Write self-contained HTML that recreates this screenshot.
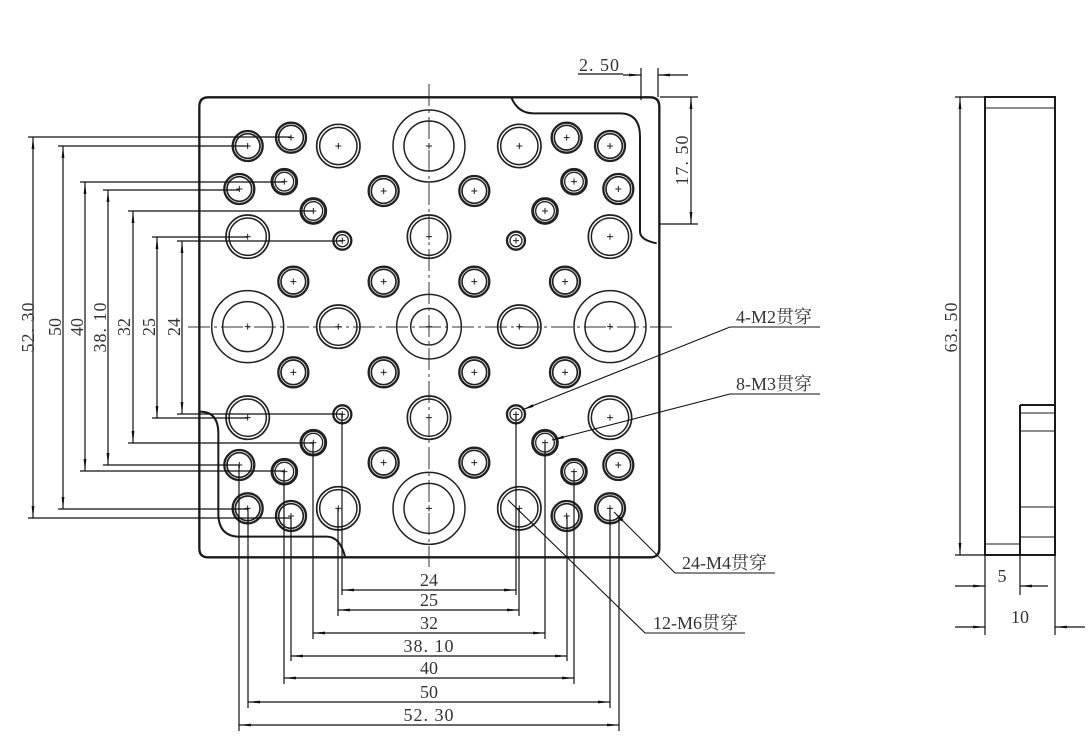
<!DOCTYPE html>
<html><head><meta charset="utf-8"><style>
html,body{margin:0;padding:0;background:#fff;}
svg{display:block}
text{font-family:"Liberation Serif","Noto Serif CJK SC",serif;font-size:18px;fill:#333}
.w{letter-spacing:1px}
</style></head><body>
<svg width="1092" height="752" viewBox="0 0 1092 752" xmlns="http://www.w3.org/2000/svg">
<defs>
<marker id="ar" viewBox="0 0 12 4" refX="12" refY="2" markerWidth="12" markerHeight="4" markerUnits="userSpaceOnUse" orient="auto-start-reverse"><path d="M0,0.6 L12,2 L0,3.4 Z" fill="#111"/></marker>
<g id="cr"><path d="M-9,0H9M0,-9V9" stroke="#222" stroke-width="3"/></g>
<g id="A" fill="none" stroke="#222"><circle r="45" stroke-width="7"/><circle r="37" stroke-width="5"/><use href="#cr"/></g>
<g id="B" fill="none" stroke="#222"><circle r="37" stroke-width="9"/><circle r="28" stroke-width="4"/><use href="#cr"/></g>
<g id="C" fill="none" stroke="#222"><circle r="65" stroke-width="5"/><circle r="56" stroke-width="4.5"/><use href="#cr"/></g>
<g id="D" fill="none" stroke="#222"><circle r="27" stroke-width="7"/><circle r="18" stroke-width="4"/><use href="#cr"/></g>
<g id="E" fill="none" stroke="#222"><circle r="108" stroke-width="4.5"/><circle r="75" stroke-width="4.5"/><use href="#cr"/></g>
<g id="F" fill="none" stroke="#222"><circle r="97" stroke-width="4.5"/><circle r="55" stroke-width="4.5"/><use href="#cr"/></g>
</defs>

<g stroke="#333" stroke-width="1" stroke-dasharray="22,4,3,4" fill="none">
<line x1="429" y1="84" x2="429" y2="567"/>
<line x1="188" y1="327" x2="672" y2="327"/>
</g>

<g transform="translate(190 80) scale(0.33333)" fill="none" stroke="#1a1a1a">
<path d="M55,52 H1380 Q1408,52 1408,80 V1405 Q1408,1432 1380,1432 H55 Q28,1432 28,1405 V80 Q28,52 55,52 Z" stroke-width="7"/>
<path d="M965,55 Q985,100 1030,100 H1290 Q1350,100 1350,170 V455 Q1350,480 1400,490" stroke-width="6"/>
<path d="M30,995 Q85,995 85,1060 V1300 Q85,1370 150,1370 H410 Q450,1370 465,1430" stroke-width="6"/>
<use href="#A" x="173" y="198"/><use href="#A" x="303" y="173"/><use href="#A" x="1130" y="173"/><use href="#A" x="1260" y="198"/>
<use href="#A" x="148" y="327"/><use href="#A" x="1285" y="327"/>
<use href="#A" x="581" y="333"/><use href="#A" x="853" y="333"/>
<use href="#A" x="310" y="605"/><use href="#A" x="581" y="605"/><use href="#A" x="853" y="605"/><use href="#A" x="1125" y="605"/>
<use href="#A" x="310" y="877"/><use href="#A" x="581" y="877"/><use href="#A" x="853" y="877"/><use href="#A" x="1125" y="877"/>
<use href="#A" x="148" y="1155"/><use href="#A" x="1285" y="1155"/>
<use href="#A" x="581" y="1148"/><use href="#A" x="853" y="1148"/>
<use href="#A" x="173" y="1285"/><use href="#A" x="303" y="1308"/><use href="#A" x="1130" y="1308"/><use href="#A" x="1260" y="1285"/>
<use href="#B" x="283" y="305"/><use href="#B" x="1152" y="305"/><use href="#B" x="370" y="393"/><use href="#B" x="1065" y="393"/>
<use href="#B" x="370" y="1088"/><use href="#B" x="1065" y="1088"/><use href="#B" x="283" y="1175"/><use href="#B" x="1152" y="1175"/>
<use href="#D" x="457" y="482"/><use href="#D" x="978" y="482"/><use href="#D" x="457" y="1003"/><use href="#D" x="978" y="1003"/>
<use href="#C" x="445" y="198"/><use href="#C" x="988" y="198"/><use href="#C" x="173" y="470"/><use href="#C" x="717" y="470"/><use href="#C" x="1260" y="470"/>
<use href="#C" x="445" y="740"/><use href="#C" x="988" y="740"/>
<use href="#C" x="173" y="1013"/><use href="#C" x="717" y="1013"/><use href="#C" x="1260" y="1013"/>
<use href="#C" x="445" y="1285"/><use href="#C" x="988" y="1285"/>
<use href="#E" x="717" y="198"/><use href="#E" x="173" y="740"/><use href="#E" x="1260" y="740"/><use href="#E" x="717" y="1285"/>
<use href="#F" x="717" y="740"/>
</g>

<g stroke="#111" stroke-width="1.2" fill="none">
<path d="M28,137H291 M28,518H291"/>
<path d="M58,146H248 M58,509H248"/>
<path d="M80,182H284 M80,471H284"/>
<path d="M103,190H239 M103,465H239"/>
<path d="M128,211H313 M128,443H313"/>
<path d="M152,237H248 M152,418H248"/>
<path d="M177,241H342 M177,414H342"/>
<line x1="33" y1="137" x2="33" y2="518" marker-start="url(#ar)" marker-end="url(#ar)"/>
<line x1="63" y1="146" x2="63" y2="509" marker-start="url(#ar)" marker-end="url(#ar)"/>
<line x1="85" y1="182" x2="85" y2="471" marker-start="url(#ar)" marker-end="url(#ar)"/>
<line x1="108" y1="190" x2="108" y2="465" marker-start="url(#ar)" marker-end="url(#ar)"/>
<line x1="133" y1="211" x2="133" y2="443" marker-start="url(#ar)" marker-end="url(#ar)"/>
<line x1="157" y1="237" x2="157" y2="418" marker-start="url(#ar)" marker-end="url(#ar)"/>
<line x1="182" y1="241" x2="182" y2="414" marker-start="url(#ar)" marker-end="url(#ar)"/>
</g>
<g text-anchor="middle">
<text class="w" transform="translate(34 327) rotate(-90)">52. 30</text>
<text transform="translate(61 327) rotate(-90)">50</text>
<text transform="translate(83 327) rotate(-90)">40</text>
<text class="w" transform="translate(106 327) rotate(-90)">38. 10</text>
<text transform="translate(130 327) rotate(-90)">32</text>
<text transform="translate(155 327) rotate(-90)">25</text>
<text transform="translate(180 327) rotate(-90)">24</text>
</g>

<g stroke="#111" stroke-width="1.2" fill="none">
<path d="M342,414V595 M516,414V595"/>
<path d="M338,508V616 M519,508V616"/>
<path d="M313,443V639 M545,443V639"/>
<path d="M291,516V661 M567,516V661"/>
<path d="M284,471V684 M574,471V684"/>
<path d="M248,508V708 M610,508V708"/>
<path d="M239,465V731 M619,516V731"/>
<line x1="342" y1="590" x2="516" y2="590" marker-start="url(#ar)" marker-end="url(#ar)"/>
<line x1="338" y1="610" x2="519" y2="610" marker-start="url(#ar)" marker-end="url(#ar)"/>
<line x1="313" y1="633" x2="545" y2="633" marker-start="url(#ar)" marker-end="url(#ar)"/>
<line x1="291" y1="656" x2="567" y2="656" marker-start="url(#ar)" marker-end="url(#ar)"/>
<line x1="284" y1="678" x2="574" y2="678" marker-start="url(#ar)" marker-end="url(#ar)"/>
<line x1="248" y1="702" x2="610" y2="702" marker-start="url(#ar)" marker-end="url(#ar)"/>
<line x1="239" y1="725" x2="619" y2="725" marker-start="url(#ar)" marker-end="url(#ar)"/>
</g>
<g text-anchor="middle">
<text x="429" y="586">24</text>
<text x="429" y="606">25</text>
<text x="429" y="629">32</text>
<text class="w" x="429" y="652">38. 10</text>
<text x="429" y="674">40</text>
<text x="429" y="698">50</text>
<text class="w" x="429" y="721">52. 30</text>
</g>

<g stroke="#111" stroke-width="1.2" fill="none">
<path d="M578,74H623"/>
<path d="M641,68V100 M658,68V97"/>
<line x1="623" y1="75" x2="641" y2="75" marker-end="url(#ar)"/>
<line x1="688" y1="75" x2="658" y2="75" marker-end="url(#ar)"/>
<path d="M660,97H698 M660,224H698"/>
<line x1="691" y1="97" x2="691" y2="224" marker-start="url(#ar)" marker-end="url(#ar)"/>
</g>
<text class="w" x="579" y="71">2. 50</text>
<text class="w" text-anchor="middle" transform="translate(688 160) rotate(-90)">17. 50</text>

<g stroke="#111" stroke-width="1.1" fill="none">
<path d="M820,327H730"/><line x1="730" y1="327" x2="522" y2="410" marker-end="url(#ar)"/>
<path d="M820,394H730"/><line x1="730" y1="394" x2="552" y2="440" marker-end="url(#ar)"/>
<path d="M775,573H675"/><line x1="675" y1="573" x2="614" y2="512" marker-end="url(#ar)"/>
<path d="M745,633H645"/><line x1="645" y1="633" x2="508" y2="500"/>
</g>
<text x="736" y="323">4-M2贯穿</text>
<text x="736" y="390">8-M3贯穿</text>
<text x="682" y="569">24-M4贯穿</text>
<text x="653" y="629">12-M6贯穿</text>

<g stroke="#1a1a1a" fill="none">
<rect x="985" y="97" width="70" height="458" stroke-width="2"/>
<path d="M1020,405V555 M1020,405H1055" stroke-width="2"/>
<path d="M985,108H1055 M985,544H1020 M1020,413H1055 M1020,431H1055 M1020,507H1055 M1020,537H1055" stroke-width="1"/>
</g>
<g stroke="#111" stroke-width="1.2" fill="none">
<path d="M955,97H985 M955,555H985"/>
<line x1="960" y1="97" x2="960" y2="555" marker-start="url(#ar)" marker-end="url(#ar)"/>
<path d="M985,555V635 M1020,555V595 M1055,555V635"/>
<line x1="955" y1="586" x2="985" y2="586" marker-end="url(#ar)"/>
<line x1="1048" y1="586" x2="1020" y2="586" marker-end="url(#ar)"/>
<line x1="955" y1="627" x2="985" y2="627" marker-end="url(#ar)"/>
<line x1="1085" y1="627" x2="1055" y2="627" marker-end="url(#ar)"/>
</g>
<text class="w" transform="translate(957 327) rotate(-90)" text-anchor="middle">63. 50</text>
<text x="1002" y="582" text-anchor="middle">5</text>
<text x="1020" y="623" text-anchor="middle">10</text>
</svg>
</body></html>
